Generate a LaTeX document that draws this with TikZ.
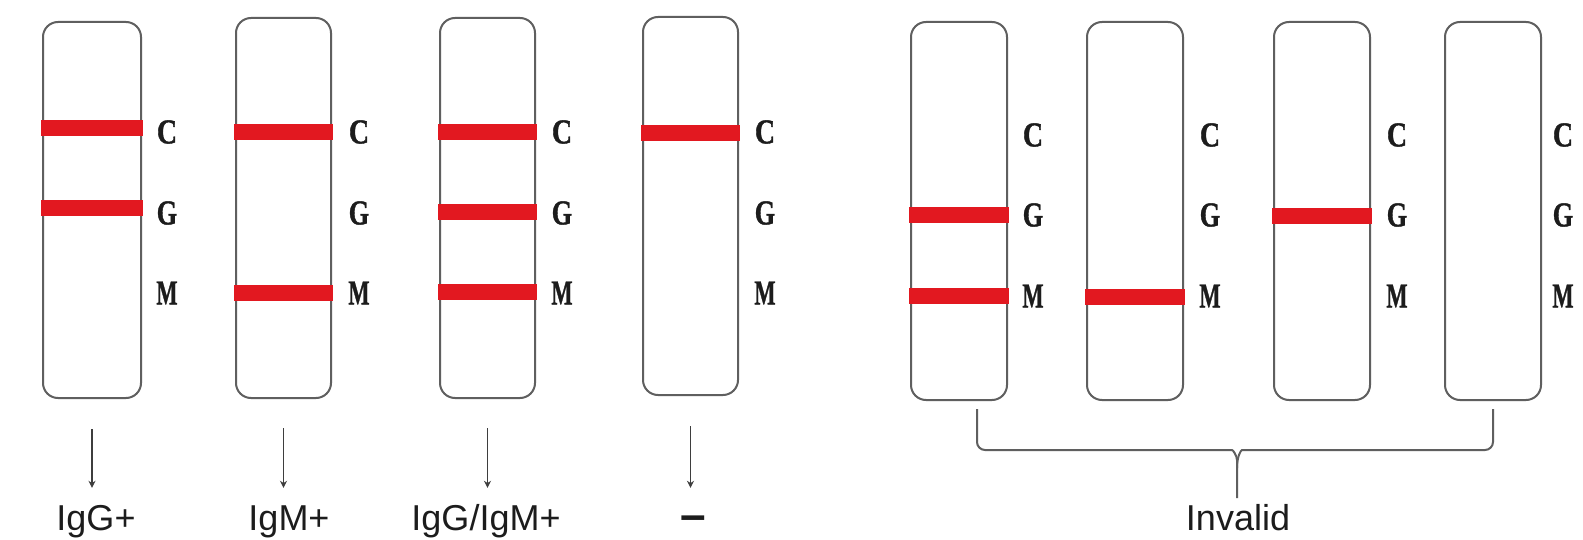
\documentclass[tikz,border=0pt]{standalone}
\usepackage{fontspec}
\setmainfont{Liberation Sans}
\newfontfamily\lblfont{Liberation Serif}[BoldFeatures={FakeBold=1.2}]
\usetikzlibrary{arrows.meta}
\definecolor{bandred}{RGB}{226,24,32}
\definecolor{stripgray}{RGB}{95,95,95}
\definecolor{inkdark}{RGB}{28,28,28}
\newcommand\stripletter[2]{\scalebox{#1}[1]{#2}}
\newcommand\bandat[2]{\fill[band] ([xshift=-1pt]#1.west |- 0,#2-8) rectangle ([xshift=1pt]#1.east |- 0,#2+8);}
\begin{document}
\begin{tikzpicture}[x=1pt,y=-1pt,
  strip/.style={draw=stripgray, line width=2pt, rounded corners=15pt, minimum width=96pt, inner sep=0pt},
  band/.style={fill=bandred},
  lt/.style={font=\lblfont\bfseries\fontsize{35}{35}\selectfont, inner sep=0pt, text=inkdark},
  res/.style={font=\fontsize{36}{36}\selectfont, inner sep=0pt, anchor=base, text=inkdark, text height=26pt, text depth=8pt},
  arr/.style={draw=inkdark!85, line width=1.8pt, -{Stealth[length=7pt,width=7pt]}, shorten >=16pt},
  brace/.style={draw=stripgray, line width=2pt, rounded corners=8pt}]
\fill[white] (0,0) rectangle (1583,540);
\useasboundingbox (0,0) rectangle (1583,540);

% strips, left group
\node[strip, minimum width=98pt, minimum height=376pt] (s1) at (92,210) {};
\node[strip, minimum width=95pt, minimum height=380pt] (s2) at (283.5,208) {};
\node[strip, minimum width=95pt, minimum height=380pt] (s3) at (487.5,208) {};
\node[strip, minimum width=95pt, minimum height=378pt] (s4) at (690.5,206) {};
% strips, right group
\node[strip, minimum height=378pt] (s5) at (959,211) {};
\node[strip, minimum height=378pt] (s6) at (1135,211) {};
\node[strip, minimum height=378pt] (s7) at (1322,211) {};
\node[strip, minimum height=378pt] (s8) at (1493,211) {};

% red bands
\bandat{s1}{128}
\bandat{s1}{208}
\bandat{s2}{132}
\bandat{s2}{293}
\bandat{s3}{132}
\bandat{s3}{212}
\bandat{s3}{292}
\bandat{s4}{133}
\bandat{s5}{215}
\bandat{s5}{296}
\bandat{s6}{297}
\bandat{s7}{216}

% C G M letters, left group
\foreach \n/\x in {1/167, 2/359, 3/562, 4/765}{
  \node[lt] (c\n) at (\x,132) {\stripletter{0.8}{C}};
  \node[lt] (g\n) at (\x,213) {\stripletter{0.75}{G}};
  \node[lt] (m\n) at (\x,293) {\stripletter{0.64}{M}};
}
% C G M letters, right group
\foreach \n/\x in {5/1033, 6/1210, 7/1397, 8/1563}{
  \node[lt] (c\n) at (\x,135) {\stripletter{0.8}{C}};
  \node[lt] (g\n) at (\x,215) {\stripletter{0.75}{G}};
  \node[lt] (m\n) at (\x,296) {\stripletter{0.64}{M}};
}

% results
\node[res] (r1) at (96,530) {IgG+};
\node[res] (r2) at (289,530) {IgM+};
\node[res] (r3) at (486,530) {IgG/IgM+};
\node[res, font=\bfseries\fontsize{46}{46}\selectfont] (r4) at (693,530) {–};
\node[res] (r5) at (1238,530) {Invalid};

% arrows
\draw[arr, shorten <=30pt] (s1.south) -- (s1.south |- r1.north);
\draw[arr, shorten <=29pt] (s2.south) -- (s2.south |- r2.north);
\draw[arr, shorten <=29pt] (s3.south) -- (s3.south |- r3.north);
\draw[arr, shorten <=30pt] (s4.south) -- (s4.south |- r4.north);

% brace
\coordinate (bl) at (977,409);
\coordinate (br) at (1493,409);
\coordinate (bt) at (1237,498);
\draw[brace] (bl) -- (977,450) -- (1224,450) .. controls (1233,450) and (1237,456) .. (1237,468) -- (bt);
\draw[brace] (br) -- (1493,450) -- (1250,450) .. controls (1241,450) and (1237,456) .. (1237,468);
\end{tikzpicture}
\end{document}
